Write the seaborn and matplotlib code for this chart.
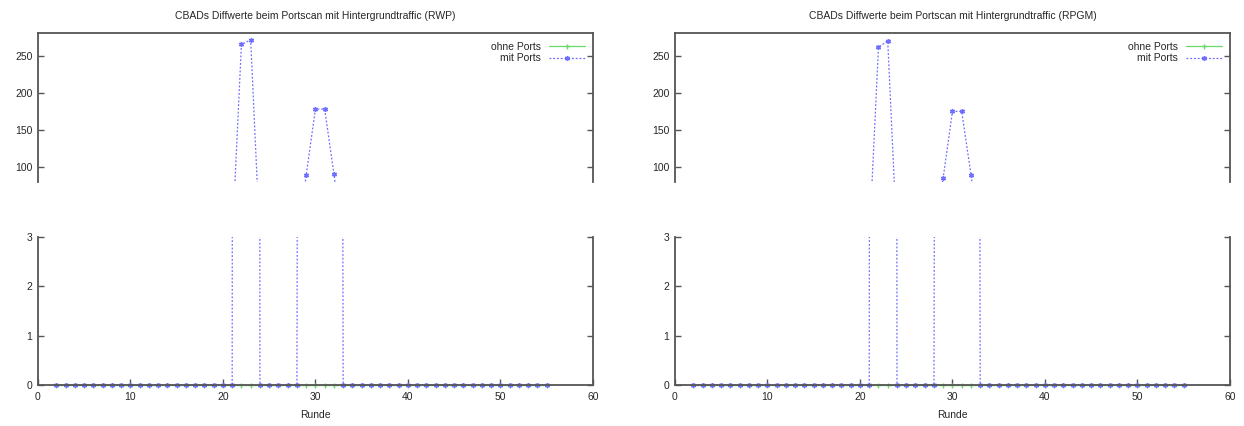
import matplotlib
matplotlib.use("Agg")
import matplotlib.pyplot as plt
import pandas as pd
import seaborn as sns
from matplotlib.transforms import Bbox, TransformedBbox

# Rounds of the port-scan experiment
runden = [2, 3, 4, 5, 6, 7, 8, 9, 10, 11, 12, 13, 14, 15, 16, 17, 18, 19, 20, 21,
          22, 23, 24, 25, 26, 27, 28, 29, 30, 31, 32, 33, 34, 35, 36, 37, 38, 39,
          40, 41, 42, 43, 44, 45, 46, 47, 48, 49, 50, 51, 52, 53, 54, 55]

# CBAD difference values, RWP mobility model
ohne_ports_rwp = [0, 0, 0, 0, 0, 0, 0, 0, 0, 0, 0, 0, 0, 0, 0, 0, 0, 0, 0, 0,
                  0, 0, 0, 0, 0, 0, 0, 0, 0, 0, 0, 0, 0, 0, 0, 0, 0, 0,
                  0, 0, 0, 0, 0, 0, 0, 0, 0, 0, 0, 0, 0, 0, 0, 0]
mit_ports_rwp = [0, 0, 0, 0, 0, 0, 0, 0, 0, 0, 0, 0, 0, 0, 0, 0, 0, 0, 0, 0,
                 265, 271, 0, 0, 0, 0, 0, 89, 178, 178, 91, 0, 0, 0, 0, 0, 0, 0,
                 0, 0, 0, 0, 0, 0, 0, 0, 0, 0, 0, 0, 0, 0, 0, 0]

# CBAD difference values, RPGM mobility model
ohne_ports_rpgm = [0, 0, 0, 0, 0, 0, 0, 0, 0, 0, 0, 0, 0, 0, 0, 0, 0, 0, 0, 0,
                   0, 0, 0, 0, 0, 0, 0, 0, 0, 0, 0, 0, 0, 0, 0, 0, 0, 0,
                   0, 0, 0, 0, 0, 0, 0, 0, 0, 0, 0, 0, 0, 0, 0, 0]
mit_ports_rpgm = [0, 0, 0, 0, 0, 0, 0, 0, 0, 0, 0, 0, 0, 0, 0, 0, 0, 0, 0, 0,
                  261, 270, 0, 0, 0, 0, 0, 86, 175, 175, 90, 0, 0, 0, 0, 0, 0, 0,
                  0, 0, 0, 0, 0, 0, 0, 0, 0, 0, 0, 0, 0, 0, 0, 0]

reihen = ["ohne Ports", "mit Ports"]
szenarien = ["RWP", "RPGM"]
titel_vorlage = "CBADs Diffwerte beim Portscan mit Hintergrundtraffic ({})"

frames = []
for szen, ohne, mit in [("RWP", ohne_ports_rwp, mit_ports_rwp),
                        ("RPGM", ohne_ports_rpgm, mit_ports_rpgm)]:
    frames.append(pd.DataFrame({"Runde": runden, "Wert": ohne,
                                "Reihe": "ohne Ports", "Szenario": szen}))
    frames.append(pd.DataFrame({"Runde": runden, "Wert": mit,
                                "Reihe": "mit Ports", "Szenario": szen}))
df = pd.concat(frames, ignore_index=True)

sns.set_theme(style="white")
plt.rcParams["font.family"] = ["Liberation Sans", "DejaVu Sans"]
plt.rcParams["font.size"] = 7.5

palette = {"ohne Ports": "#6ad86a", "mit Ports": "#6f6fff"}
dashes = {"ohne Ports": "", "mit Ports": (1.5, 1.5)}
markers = {"ohne Ports": "+", "mit Ports": (6, 2, 0)}
spine_col = "#555555"


def color_markers(lines):
    # unfilled markers take the colour of their own line
    for ln in lines:
        ln.set_markeredgecolor(ln.get_color())
        ln.set_markerfacecolor(ln.get_color())


fig = plt.figure(figsize=(12.44, 4.26), dpi=100)

lefts = [0.0305, 0.5426]
width = 0.4461
upper_box = (0.5728, 0.3490)
lower_box = (0.0962, 0.3482)

for szen, x0 in zip(szenarien, lefts):
    sub = df[df["Szenario"] == szen]
    ax_hi = fig.add_axes([x0, upper_box[0], width, upper_box[1]])
    ax_lo = fig.add_axes([x0, lower_box[0], width, lower_box[1]])

    for ax, show_legend in [(ax_hi, True), (ax_lo, False)]:
        sns.lineplot(data=sub, x="Runde", y="Wert", hue="Reihe", style="Reihe",
                     hue_order=reihen, style_order=reihen, palette=palette,
                     dashes=dashes, markers=markers, markersize=3.6,
                     markeredgewidth=1.0, linewidth=0.9, ax=ax,
                     legend=show_legend)
        color_markers(ax.lines)
        ax.set_xlim(0, 60)
        ax.set_xlabel("")
        ax.set_ylabel("")
        for s in ax.spines.values():
            s.set_color(spine_col)
            s.set_linewidth(1.3)
        ax.tick_params(axis="y", direction="in", length=4.5, width=1.0,
                       color=spine_col, left=True, right=True,
                       labelsize=7.5, pad=4)

    # upper part of the broken axis
    ax_hi.set_ylim(80, 280)
    ax_hi.set_yticks([100, 150, 200, 250])
    ax_hi.spines["bottom"].set_visible(False)
    ax_hi.set_xticks([])
    ax_hi.set_title(titel_vorlage.format(szen), fontsize=7.5, pad=10)
    sns.move_legend(ax_hi, "upper right", title=None, frameon=False,
                    markerfirst=False, fontsize=7.5, handlelength=3.4,
                    labelspacing=0.15, borderaxespad=0.4, handletextpad=0.8)
    color_markers(ax_hi.get_legend().legend_handles)

    # lower part of the broken axis
    ax_lo.set_ylim(0, 3)
    ax_lo.set_yticks([0, 1, 2, 3])
    ax_lo.spines["top"].set_visible(False)
    ax_lo.set_xticks([0, 10, 20, 30, 40, 50, 60])
    ax_lo.tick_params(axis="x", direction="in", length=4.5, width=1.0,
                      color=spine_col, bottom=True, top=False,
                      labelsize=7.5, pad=5)
    ax_lo.set_xlabel("Runde", fontsize=7.5, labelpad=6)
    # let the markers sitting on the zero line show in full
    clip = TransformedBbox(Bbox([[0, -0.06], [1, 1]]), ax_lo.transAxes)
    for ln in ax_lo.lines:
        ln.set_clip_box(clip)

fig.savefig("out.png", dpi=100, facecolor="white")
